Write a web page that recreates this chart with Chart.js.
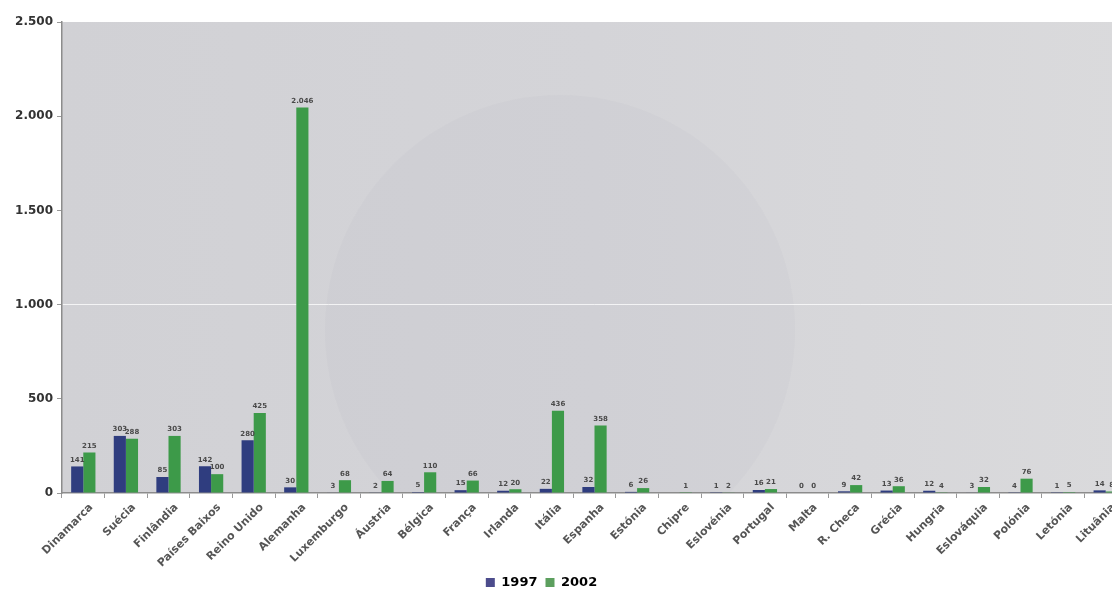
<!DOCTYPE html>
<html>
<head>
<meta charset="utf-8">
<script src="https://cdn.jsdelivr.net/npm/chart.js@4/dist/chart.umd.min.js"></script>
<style>
  html, body { margin: 0; padding: 0; background: #fff; overflow: hidden; }
  #wrap { width: 1127px; height: 599px; }
</style>
</head>
<body>
<div id="wrap"><canvas id="myChart" width="1127" height="599"></canvas></div>
<script>
// countries and counts per year
const paises = ['Dinamarca', 'Suécia', 'Finlândia', 'Países Baixos', 'Reino Unido', 'Alemanha',
  'Luxemburgo', 'Áustria', 'Bélgica', 'França', 'Irlanda', 'Itália', 'Espanha', 'Estónia',
  'Chipre', 'Eslovénia', 'Portugal', 'Malta', 'R. Checa', 'Grécia', 'Hungria', 'Eslováquia',
  'Polónia', 'Letónia', 'Lituânia'];
const anos = ['1997', '2002'];
const dados1997 = [141, 303, 85, 142, 280, 30, 3, 2, 5, 15, 12, 22, 32, 6, null, 1, 16, 0, 9, 13, 12, 3, 4, 1, 14];
const dados2002 = [215, 288, 303, 100, 425, 2046, 68, 64, 110, 66, 20, 436, 358, 26, 1, 2, 21, 0, 42, 36, 4, 32, 76, 5, 8];
const yTicks = [0, 500, 1000, 1500, 2000, 2500];

function fmt(v) {
  return String(v).replace(/\B(?=(\d{3})+(?!\d))/g, '.');
}

// grey plot background with a faint round shape
const fundo = {
  id: 'fundo',
  beforeDraw(chart) {
    const a = chart.chartArea;
    const ctx = chart.ctx;
    ctx.save();
    ctx.beginPath();
    ctx.rect(a.left, a.top, a.right - a.left, a.bottom - a.top);
    ctx.clip();
    const g = ctx.createLinearGradient(a.left, 0, a.right, 0);
    g.addColorStop(0, '#d1d1d5');
    g.addColorStop(0.5, '#d4d4d8');
    g.addColorStop(1, '#dadadc');
    ctx.fillStyle = g;
    ctx.fillRect(a.left, a.top, a.right - a.left, a.bottom - a.top);
    ctx.beginPath();
    ctx.arc(560, 330, 235, 0, Math.PI * 2);
    ctx.fillStyle = 'rgba(150,150,170,0.06)';
    ctx.fill();
    ctx.restore();
  }
};

// numbers above each bar
const rotulos = {
  id: 'rotulos',
  afterDatasetsDraw(chart) {
    const ctx = chart.ctx;
    ctx.save();
    ctx.font = 'bold 7px "DejaVu Sans"';
    ctx.fillStyle = '#4a4a4a';
    ctx.textAlign = 'center';
    ctx.textBaseline = 'bottom';
    chart.data.datasets.forEach((ds, i) => {
      chart.getDatasetMeta(i).data.forEach((bar, j) => {
        const v = ds.data[j];
        if (v === null) return;
        ctx.fillText(fmt(v), bar.x, bar.y - 3);
      });
    });
    ctx.restore();
  }
};

// move the legend a little to the left
const legendaPos = {
  id: 'legendaPos',
  afterLayout(chart) {
    chart.legend.left -= 22;
    chart.legend.right -= 22;
  }
};

const ctx = document.getElementById('myChart').getContext('2d');
const chart = new Chart(ctx, {
  type: 'bar',
  data: {
    labels: paises,
    datasets: [
      { label: anos[0], data: dados1997, backgroundColor: '#2f3d7f' },
      { label: anos[1], data: dados2002, backgroundColor: '#3d9a49' }
    ]
  },
  options: {
    responsive: false,
    animation: false,
    devicePixelRatio: 1,
    categoryPercentage: 0.57,
    barPercentage: 1.0,
    layout: { padding: { top: 22, left: 0, right: 0, bottom: 0 } },
    plugins: {
      tooltip: { enabled: false },
      legend: {
        position: 'bottom',
        labels: {
          boxWidth: 9,
          boxHeight: 9,
          padding: 8,
          color: '#333',
          font: { family: '"DejaVu Sans"', size: 13, weight: 'bold' },
          generateLabels(chart) {
            const cores = ['#4c4c8c', '#5c9f5e'];
            return chart.data.datasets.map((ds, i) => ({
              text: ds.label, fillStyle: cores[i], strokeStyle: cores[i], lineWidth: 0, datasetIndex: i
            }));
          }
        }
      }
    },
    scales: {
      x: {
        grid: { drawOnChartArea: false, offset: true, tickLength: 5, color: '#999' },
        border: { color: '#8c8c8c', width: 1.5 },
        ticks: {
          minRotation: 45, maxRotation: 45, autoSkip: false,
          labelOffset: 8,
          color: '#555',
          font: { family: '"DejaVu Sans"', size: 11, weight: 'bold' }
        },
        afterFit(scale) { scale.height = 75; }
      },
      y: {
        min: 0, max: 2500,
        afterBuildTicks(scale) { scale.ticks = yTicks.map(v => ({ value: v })); },
        grid: {
          tickLength: 5,
          color(c) { return c.tick && c.tick.value === 1000 ? 'rgba(255,255,255,0.75)' : 'rgba(0,0,0,0)'; },
          tickColor: '#999'
        },
        border: { color: '#8c8c8c', width: 1.5 },
        ticks: {
          color: '#333',
          padding: 4,
          font: { family: '"DejaVu Sans"', size: 12, weight: 'bold' },
          callback: v => fmt(v)
        },
        afterFit(scale) { scale.width = 62; }
      }
    }
  },
  plugins: [fundo, rotulos, legendaPos]
});
</script>
</body>
</html>
